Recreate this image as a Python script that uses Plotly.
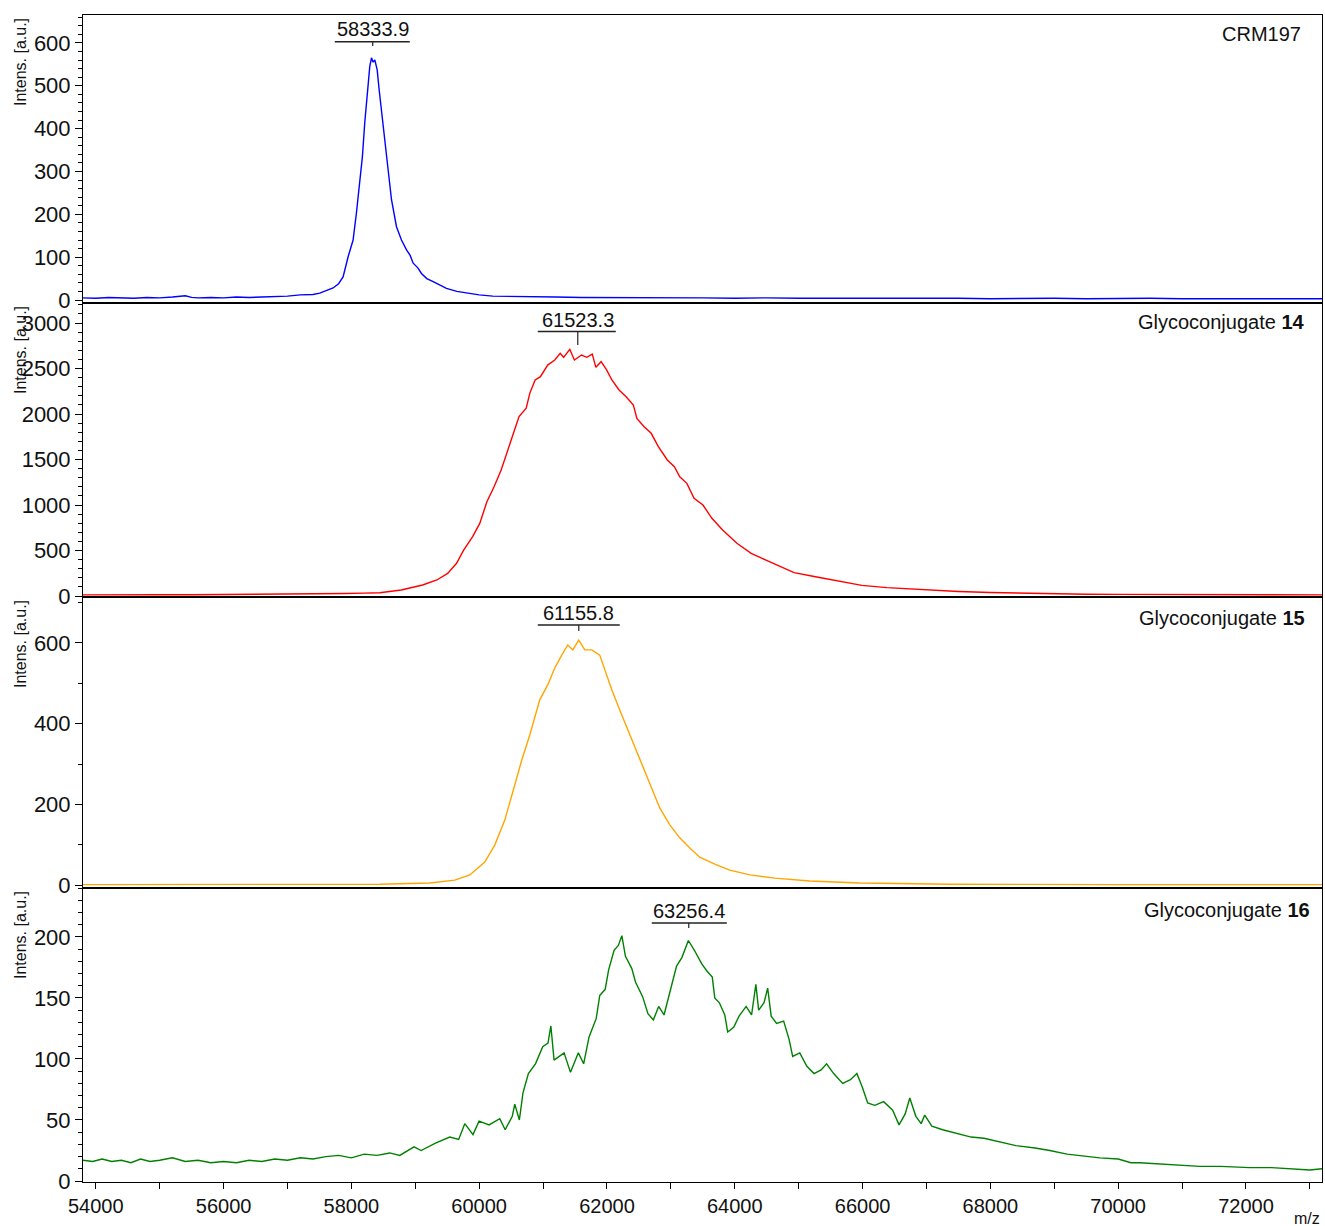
import plotly.graph_objects as go
from plotly.subplots import make_subplots

# ---------------- data ----------------
crm_mz = [53800, 54000, 54200, 54400, 54600, 54800, 55000, 55200, 55400, 55500, 55600, 55800,
          56000, 56200, 56400, 56600, 56800, 57000, 57200, 57400, 57505, 57620, 57714, 57800,
          57870, 57949, 58027, 58079, 58131, 58173, 58209, 58251, 58288, 58315, 58340, 58367,
          58404, 58435, 58472, 58523, 58576, 58628, 58706, 58784, 58863, 58920, 58967, 59040,
          59097, 59180, 59280, 59380, 59488, 59650, 59801, 60000, 60213, 60500, 60800, 61200,
          61600, 62000, 62500, 63000, 63500, 64000, 64500, 65000, 65500, 66000, 66500, 67000,
          67500, 68000, 68500, 69000, 69500, 70000, 70500, 71000, 71500, 72000, 72500, 73000, 73190]
crm_int = [5, 4, 6, 5, 4, 6, 5, 7, 10, 6, 5, 6,
           5, 7, 6, 7, 8, 9, 12, 13, 16, 22, 28, 38,
           54, 101, 140, 203, 273, 335, 413, 483, 545, 565, 555, 560,
           537, 490, 440, 374, 296, 234, 171, 140, 117, 104, 86, 75,
           62, 50, 43, 35, 27, 20, 16, 12, 9, 8, 7, 7,
           6, 6, 5, 5, 5, 4, 5, 4, 4, 5, 4, 4,
           4, 3, 4, 4, 3, 4, 4, 3, 3, 4, 3, 3, 3]

g14_mz = [53800, 54200, 54600, 55000, 55500, 56000, 56500, 57000, 57500, 57900, 58200, 58444,
          58780, 59115, 59338, 59507, 59646, 59757, 59898, 60009, 60121, 60233, 60344, 60429,
          60512, 60624, 60736, 60792, 60876, 60959, 61072, 61183, 61268, 61322, 61418, 61490,
          61602, 61685, 61770, 61826, 61909, 61994, 62077, 62189, 62300, 62413, 62468, 62581,
          62692, 62804, 62944, 63055, 63139, 63250, 63363, 63502, 63642, 63810, 64033, 64257,
          64480, 64704, 64928, 65263, 65598, 65989, 66380, 66828, 67163, 67500, 68000, 68500,
          69000, 69500, 70000, 70500, 71000, 71500, 72000, 72500, 73000, 73190]
g14_int = [12, 15, 12, 14, 13, 15, 16, 18, 22, 28, 32, 36,
           66, 121, 176, 249, 359, 505, 652, 798, 1036, 1201, 1385, 1568,
           1751, 1971, 2063, 2227, 2374, 2410, 2538, 2593, 2667, 2623, 2711, 2593,
           2648, 2623, 2659, 2513, 2575, 2484, 2374, 2264, 2190, 2099, 1952, 1861,
           1788, 1641, 1495, 1421, 1311, 1238, 1074, 1000, 854, 725, 579, 469,
           396, 322, 256, 212, 168, 117, 92, 73, 66, 50, 38, 30,
           24, 20, 18, 16, 15, 14, 13, 13, 12, 12]

g15_mz = [53800, 55000, 56000, 57000, 58000, 58444, 59227, 59618, 59853, 60088, 60244, 60401,
          60557, 60667, 60792, 60948, 61073, 61183, 61292, 61386, 61465, 61559, 61653, 61762,
          61887, 61965, 62075, 62200, 62357, 62513, 62670, 62826, 62983, 63139, 63296, 63452,
          63687, 63922, 64235, 64626, 65174, 65956, 67365, 68500, 70000, 71500, 73190]
g15_int = [1, 1, 1, 1, 1, 2, 5, 12, 25, 57, 99, 161,
           248, 310, 372, 459, 496, 538, 570, 595, 583, 607, 583, 583,
           570, 533, 484, 434, 372, 310, 248, 191, 149, 117, 92, 69,
           52, 37, 25, 17, 10, 5, 2, 1, 1, 1, 1]

g16_mz = [53800, 53950, 54100, 54250, 54400, 54550, 54700, 54850, 55000, 55200, 55400, 55600,
          55800, 56000, 56200, 56400, 56600, 56800, 57000, 57200, 57400, 57600, 57800, 58000,
          58200, 58400, 58600, 58757, 58981, 59092, 59316, 59540, 59679, 59775, 59903, 59998,
          60155, 60322, 60407, 60518, 60557, 60629, 60685, 60770, 60881, 60994, 61077, 61122,
          61172, 61329, 61429, 61552, 61635, 61720, 61831, 61887, 61972, 62026, 62111, 62178,
          62233, 62289, 62389, 62446, 62558, 62641, 62726, 62809, 62893, 62950, 63033, 63089,
          63172, 63274, 63368, 63481, 63564, 63648, 63687, 63759, 63844, 63889, 63983, 64067,
          64178, 64263, 64330, 64374, 64458, 64515, 64570, 64654, 64765, 64850, 64906, 65017,
          65128, 65241, 65352, 65437, 65548, 65689, 65810, 65911, 65995, 66080, 66191, 66330,
          66471, 66571, 66667, 66739, 66834, 66917, 66973, 67084, 67253, 67476, 67700, 67900,
          68147, 68400, 68700, 68930, 69200, 69500, 69712, 70000, 70200, 70338, 70600, 70900,
          71277, 71600, 72060, 72400, 72700, 73000, 73190]
g16_int = [17, 16, 18, 16, 17, 15, 18, 16, 17, 19, 16, 17,
           15, 16, 15, 17, 16, 18, 17, 19, 18, 20, 21, 19,
           22, 21, 23, 21, 28, 25, 31, 36, 34, 47, 38, 49,
           46, 51, 42, 53, 63, 50, 72, 88, 96, 110, 113, 127,
           99, 105, 89, 105, 96, 118, 133, 152, 157, 173, 189, 193,
           201, 184, 174, 163, 151, 137, 132, 143, 136, 148, 165, 176,
           183, 197, 189, 178, 172, 167, 150, 146, 136, 122, 126, 135,
           143, 136, 161, 140, 146, 158, 135, 129, 131, 116, 102, 105,
           94, 88, 91, 96, 88, 80, 83, 88, 77, 64, 62, 65,
           58, 46, 55, 68, 53, 47, 54, 45, 42, 39, 36, 35,
           32, 29, 27, 25, 22, 20, 19, 18, 15, 15, 14, 13,
           12, 12, 11, 11, 10, 9, 10]

series = [
    ("CRM197", crm_mz, crm_int, "#0000FF"),
    ("Glycoconjugate 14", g14_mz, g14_int, "#FF0000"),
    ("Glycoconjugate 15", g15_mz, g15_int, "#FFA500"),
    ("Glycoconjugate 16", g16_mz, g16_int, "#008000"),
]
panel_names = ["CRM197", "Glycoconjugate <b>14</b>", "Glycoconjugate <b>15</b>", "Glycoconjugate <b>16</b>"]
peak_labels = ["58333.9", "61523.3", "61155.8", "63256.4"]
peak_pos = [58334, 61543, 61559, 63280]
peak_bar = [(57740, 58914), (60917, 62138), (60917, 62200), (62701, 63875)]

x_ticks = [54000, 56000, 58000, 60000, 62000, 64000, 66000, 68000, 70000, 72000]

# ---------------- layout geometry ----------------
W, H = 1325, 1226
L, R, T, B = 83, 3, 15, 44
tops = [15, 303, 597, 888]
heights = [288, 294, 291, 294]
y_ranges = [[-7, 665], [-11, 3220], [-7.4, 714], [-0.8, 240]]
y_dtick = [100, 500, 200, 50]
y_minor = [20, 100, 100, 10]

fig = make_subplots(rows=4, cols=1, shared_xaxes=True, vertical_spacing=0,
                    row_heights=heights)

for i, (name, xs, ys, col) in enumerate(series):
    fig.add_trace(go.Scatter(x=xs, y=ys, mode="lines", name=name,
                             line=dict(color=col, width=1.4), showlegend=False),
                  row=i + 1, col=1)

font = "Liberation Sans, Arial, sans-serif"
plot_h = H - T - B
plot_w = W - L - R


def dom_frac(i, py):
    return 1 - (py - tops[i]) / heights[i]


for i in range(4):
    yname = "yaxis" if i == 0 else f"yaxis{i + 1}"
    fig.layout[yname].update(
        range=y_ranges[i], tick0=0, dtick=y_dtick[i], ticks="outside", ticklen=7,
        tickcolor="black", tickwidth=1, showline=True, linecolor="black", linewidth=1,
        mirror=True, showgrid=False, zeroline=False,
        tickfont=dict(family=font, size=22, color="#111"),
        minor=dict(dtick=y_minor[i], tick0=0, ticks="outside", ticklen=4, tickcolor="black"),
    )
    xname = "xaxis" if i == 0 else f"xaxis{i + 1}"
    fig.layout[xname].update(
        range=[53800, 73190], showline=True, linecolor="black", linewidth=1, mirror=True,
        showgrid=False, zeroline=False,
    )
    ydom = "y domain" if i == 0 else f"y{i + 1} domain"
    xr = "x" if i == 0 else f"x{i + 1}"
    # panel name (top right)
    right_px = [1303, 1307, 1307, 1312][i]
    yc = [33.5, 322, 618, 910][i]
    fig.add_annotation(text=panel_names[i], xref="paper", yref=ydom,
                       x=(right_px - L) / plot_w, y=dom_frac(i, yc),
                       xanchor="right", yanchor="middle", showarrow=False,
                       font=dict(family=font, size=20, color="#111"))
    # peak label
    ty = [29.5, 320, 613, 911][i]
    by = [41.7, 331.5, 625, 923][i]
    ey = [46, 345, 631, 928][i]
    fig.add_annotation(text=peak_labels[i], xref=xr, yref=ydom, x=peak_pos[i],
                       y=dom_frac(i, ty), xanchor="center", yanchor="middle",
                       showarrow=False, font=dict(family=font, size=20, color="#111"))
    fig.add_shape(type="line", xref=xr, yref=ydom, x0=peak_bar[i][0], x1=peak_bar[i][1],
                  y0=dom_frac(i, by), y1=dom_frac(i, by), line=dict(color="#222", width=1.5))
    fig.add_shape(type="line", xref=xr, yref=ydom, x0=peak_pos[i], x1=peak_pos[i],
                  y0=dom_frac(i, by), y1=dom_frac(i, ey), line=dict(color="#222", width=1.2))
    # y-axis title
    fig.add_annotation(text="Intens. [a.u.]", xref="paper", yref="paper",
                       x=(20 - L) / plot_w, y=(H - B - (tops[i] + 1)) / plot_h,
                       xanchor="center", yanchor="top", textangle=-90, showarrow=False,
                       font=dict(family=font, size=16, color="#111"))

fig.layout["xaxis4"].update(
    tickvals=x_ticks, ticktext=[str(v) for v in x_ticks], ticks="outside", ticklen=6,
    tickcolor="black", tickfont=dict(family=font, size=20, color="#111"),
    minor=dict(dtick=1000, tick0=0, ticks="outside", ticklen=6, tickcolor="black"),
)

fig.add_annotation(text="m/z", xref="paper", yref="paper", x=(1307 - L) / plot_w,
                   y=(H - B - 1218) / plot_h, xanchor="center", yanchor="middle",
                   showarrow=False, font=dict(family=font, size=16, color="#111"))

fig.update_layout(width=W, height=H, margin=dict(l=L, r=R, t=T, b=B, autoexpand=False),
                  paper_bgcolor="white", plot_bgcolor="white")

fig.write_html("out.html")
